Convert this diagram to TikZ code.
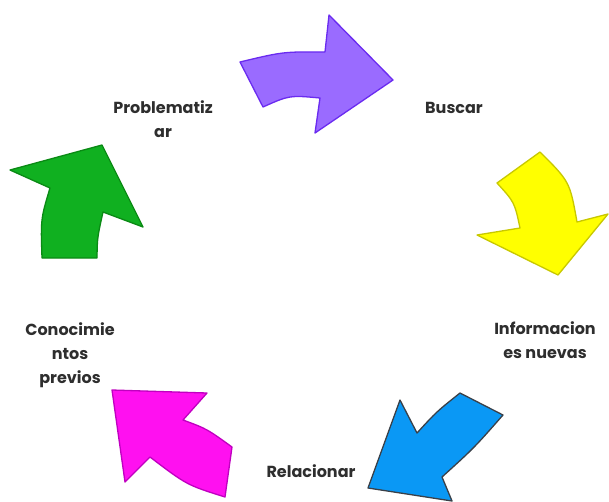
\documentclass[tikz,border=0pt]{standalone}
\usepackage{fontspec}
\setmainfont{Poppins}
\tikzset{
  arr/.style={line width=1.3pt, line join=round},
  lbl/.style={font=\fontsize{16}{24}\selectfont\bfseries, align=center, text=black!82, inner sep=0pt},
}
\definecolor{purpf}{HTML}{9A6BFF}\definecolor{purpd}{HTML}{6A2BF0}
\definecolor{yelf}{HTML}{FFFF00}\definecolor{yeld}{HTML}{C8C800}
\definecolor{bluf}{HTML}{0A98F5}\definecolor{blud}{HTML}{3A4048}
\definecolor{magf}{HTML}{FF10F0}\definecolor{magd}{HTML}{C000C0}
\definecolor{grnf}{HTML}{10B020}\definecolor{grnd}{HTML}{0A8A14}
\begin{document}
\begin{tikzpicture}[x=1pt,y=-1pt]
\useasboundingbox[fill=white] (0,0) rectangle (609,501);
% purple
\draw[arr, fill=purpf, draw=purpd] (240,62) .. controls (283,51.7) .. (325,52) -- (329,15) -- (393,80) -- (315,133) -- (320,98) .. controls (289.5,95.2) .. (263,107) -- cycle;
% yellow
\draw[arr, fill=yelf, draw=yeld] (497,183) -- (540,152) .. controls (569.8,181.7) .. (577,222) -- (608,214) -- (558,275) -- (477,235) -- (520,228) .. controls (514.5,202.2) .. cycle;
% blue
\draw[arr, fill=bluf, draw=blud] (460,393) -- (503,415) .. controls (474,448) .. (442,477) -- (452,501) -- (368,488) -- (400,400) -- (417,433) .. controls (436.5,411.7) .. cycle;
% magenta
\draw[arr, fill=magf, draw=magd] (112,390) -- (207,393) -- (183,420) .. controls (206.8,428.8) .. (232,447) -- (225,497) .. controls (186.8,485) .. (150,457) -- (125,482) -- cycle;
% green
\draw[arr, fill=grnf, draw=grnd] (102,145) -- (143,227) -- (103,212) .. controls (97.3,237.7) .. (97,258) -- (42,258) .. controls (40.7,219) .. (50,188) -- (10,170) -- cycle;
% labels
\node[lbl] (prob) at (163,119) {Problematiz\\ar};
\node[lbl] (busc) at (454,108) {Buscar};
\node[lbl] (info) at (545,340) {Informacion\\es nuevas};
\node[lbl] (cono) at (70,355) {Conocimie\\ntos\\previos};
\node[lbl] (rela) at (311,471) {Relacionar};
\end{tikzpicture}
\end{document}
